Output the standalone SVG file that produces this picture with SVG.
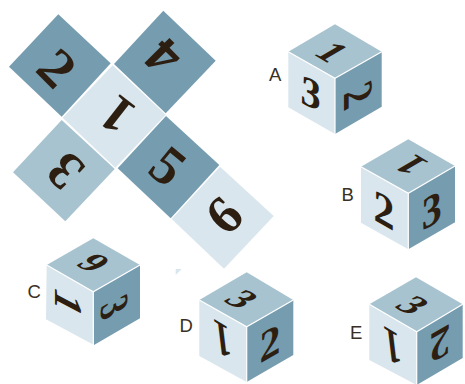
<svg xmlns="http://www.w3.org/2000/svg" width="465" height="384" viewBox="0 0 465 384">
<style>
.d{fill:#769cb0}.m{fill:#a8c3d0}.l{fill:#d9e6ed}
.n{font-family:"Liberation Serif",serif;font-weight:bold;font-size:40px;fill:#2c1e10;text-anchor:middle}
.t{font-family:"Liberation Sans",sans-serif;font-size:18.5px;fill:#3a2f25}
.e{fill:none;stroke:#fff;stroke-width:1.2}
</style>
<rect width="465" height="384" fill="#fff"/>
<g id="net">
<polygon class="d" points="58.3,14.3 110.7,63.3 61.7,116.7 9,66.7"/>
<text class="n" y="13.5" transform="matrix(1.05 1.05 -.95 .95 57 68)">2</text>
<polygon class="d" points="163.3,10.7 215.7,60.7 165.7,113.3 114,64"/>
<text class="n" y="13.5" transform="matrix(-.95 -.95 .95 -.95 163 57)">4</text>
<polygon class="l" points="112.7,65.3 165.7,114.7 115.3,167.7 62.7,117.7"/>
<text class="n" y="13.5" transform="matrix(-1.06 -.83 .83 -1.06 117 115)">1</text>
<polygon class="m" points="61.7,120 114.7,169 65.3,221.3 13,172.3"/>
<text class="n" y="13.5" transform="matrix(-.95 -.95 .95 -.95 65 171)">3</text>
<polygon class="d" points="166,116 219.3,165 170.7,218.3 117.7,168.3"/>
<text class="n" y="13.5" transform="matrix(1.06 .87 -.87 1.06 168 166)">5</text>
<polygon class="l" points="220,166.7 273.7,216 224,268.7 171.7,219"/>
<text class="n" y="13.5" transform="matrix(.95 -.95 .95 .95 224 215)">6</text>
<polygon class="l" points="175.7,269 181.7,269 175.7,275"/>
</g>
<g id="cube-a">
<polygon class="m" points="335,24.3 381.7,51.7 335,78.3 288.3,51.7"/>
<polygon class="l" points="288.3,51.7 335,78.3 335,134 288.3,107.3"/>
<polygon class="d" points="335,78.3 381.7,51.7 381.7,106.7 335,134"/>
<polyline class="e" points="288.3,51.7 335,78.3 381.7,51.7"/><line class="e" x1="335" y1="78.3" x2="335" y2="134"/>
<text class="n" y="13.5" transform="matrix(.85 .5 -.85 .5 332 52)">1</text>
<text class="n" y="13.5" transform="matrix(1 .45 -.05 1.05 311 92.7)">3</text>
<text class="n" y="13.5" transform="matrix(0 .95 -1.05 .6 358 95)">2</text>
<text class="t" x="269" y="80.7">A</text>
</g>
<g id="cube-b">
<polygon class="m" points="408.3,139.3 455,166 408.3,193.3 361,166.7"/>
<polygon class="l" points="361,166.7 408.3,193.3 408.3,249.3 361,222.7"/>
<polygon class="d" points="408.3,193.3 455,166 455,222.3 408.3,249.3"/>
<polyline class="e" points="361,166.7 408.3,193.3 455,166"/><line class="e" x1="408.3" y1="193.3" x2="408.3" y2="249.3"/>
<text class="n" y="13.5" transform="matrix(-.85 -.5 .85 -.5 411 165)">1</text>
<text class="n" y="13.5" transform="matrix(1.05 .6 0 1.15 384 210)">2</text>
<text class="n" y="13.5" transform="matrix(1 -.55 0 1.15 431.7 210)">3</text>
<text class="t" x="341.6" y="200.7">B</text>
</g>
<g id="cube-c">
<polygon class="m" points="93.3,238.3 140,265 93.3,291.7 46.7,265"/>
<polygon class="l" points="46.7,265 93.3,291.7 94,345 46,319.3"/>
<polygon class="d" points="93.3,291.7 140,265 140,318.3 94,345"/>
<polyline class="e" points="46.7,265 93.3,291.7 140,265"/><line class="e" x1="93.3" y1="291.7" x2="93.3" y2="345"/>
<text class="n" y="13.5" transform="matrix(-.85 -.45 .85 -.45 93 263)">6</text>
<text class="n" y="13.5" transform="matrix(0 1.05 -.98 -.52 68 303)">1</text>
<text class="n" y="13.5" transform="matrix(0 .85 -1 .55 115 307)">3</text>
<text class="t" x="27.5" y="298">C</text>
</g>
<g id="cube-d">
<polygon class="m" points="246.7,272.3 293.3,300 246.7,326.7 199.3,300"/>
<polygon class="l" points="199.3,300 246.7,326.7 246.7,382 199.3,356"/>
<polygon class="d" points="246.7,326.7 293.3,300 293.3,355 246.7,382"/>
<polyline class="e" points="199.3,300 246.7,326.7 293.3,300"/><line class="e" x1="246.7" y1="326.7" x2="246.7" y2="382"/>
<text class="n" y="13.5" transform="matrix(.85 .45 -.85 .45 242 299)">3</text>
<text class="n" y="13.5" transform="matrix(-.85 -.5 -.15 -1.25 222.7 340)">1</text>
<text class="n" y="13.5" transform="matrix(1.05 -.6 0 1.1 270 343)">2</text>
<text class="t" x="179.5" y="331.7">D</text>
</g>
<g id="cube-e">
<polygon class="m" points="416,277.3 462.7,304.3 416.7,331.7 369.3,304.3"/>
<polygon class="l" points="369.3,304.3 416.7,331.7 416.7,385 369.3,360"/>
<polygon class="d" points="416.7,331.7 462.7,304.3 462.7,358 416.7,385"/>
<polyline class="e" points="369.3,304.3 416.7,331.7 462.7,304.3"/><line class="e" x1="416.7" y1="331.7" x2="416.7" y2="385"/>
<text class="n" y="13.5" transform="matrix(.85 .45 -.85 .45 413 305)">3</text>
<text class="n" y="13.5" transform="matrix(-.85 -.5 -.15 -1.25 392.7 347)">1</text>
<text class="n" y="13.5" transform="matrix(-1.05 .6 0 -1.1 440 344)">2</text>
<text class="t" x="350" y="339">E</text>
</g>
</svg>
